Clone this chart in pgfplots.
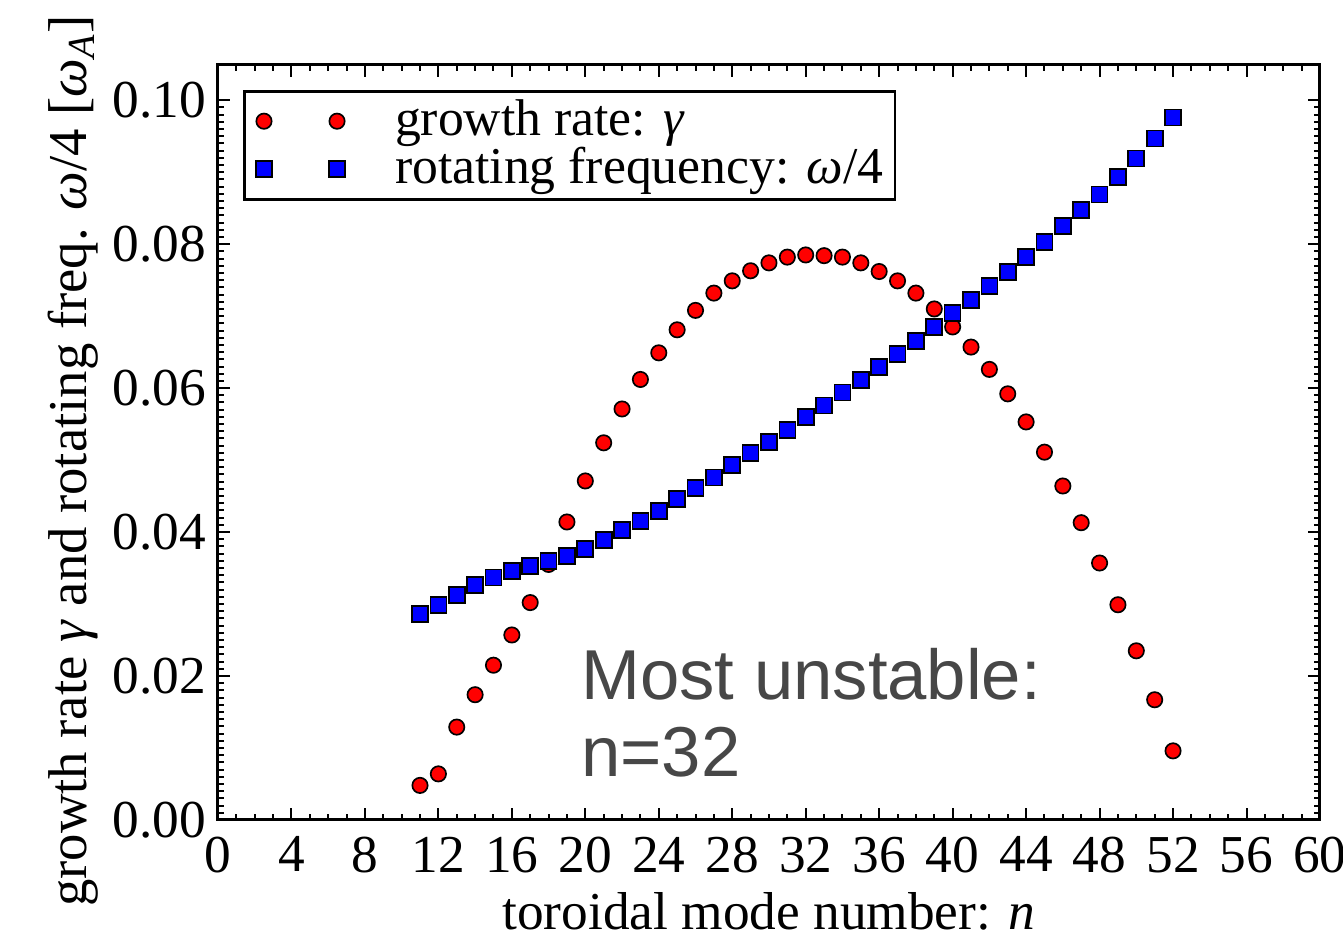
\documentclass[border=0pt]{standalone}
\usepackage{fontspec}
\setmainfont{Liberation Serif}
\newfontfamily\annfont{Liberation Sans}
\usepackage{pgfplots}
\pgfplotsset{compat=1.18}
\definecolor{anngray}{HTML}{474747}
\pgfplotsset{twomarks/.style={legend image code/.code={\draw[##1, only marks] plot coordinates {(0cm,0cm) (0.77cm,0cm)};}}}

\pgfplotstableread{
n gamma
11 0.0048
12 0.0064
13 0.0129
14 0.0174
15 0.0215
16 0.0257
17 0.0302
18 0.0355
19 0.0414
20 0.0471
21 0.0524
22 0.0571
23 0.0612
24 0.0649
25 0.0681
26 0.0708
27 0.0732
28 0.0749
29 0.0763
30 0.0774
31 0.0782
32 0.0785
33 0.0784
34 0.0782
35 0.0774
36 0.0762
37 0.0749
38 0.0732
39 0.0710
40 0.0685
41 0.0657
42 0.0626
43 0.0592
44 0.0553
45 0.0511
46 0.0464
47 0.0413
48 0.0357
49 0.0299
50 0.0235
51 0.0167
52 0.0096
}\gammatable

\pgfplotstableread{
n omega
11 0.0286
12 0.0299
13 0.0313
14 0.0326
15 0.0337
16 0.0346
17 0.0353
18 0.0360
19 0.0367
20 0.0376
21 0.0389
22 0.0403
23 0.0415
24 0.0429
25 0.0446
26 0.0461
27 0.0476
28 0.0493
29 0.0510
30 0.0525
31 0.0542
32 0.0560
33 0.0576
34 0.0594
35 0.0611
36 0.0629
37 0.0647
38 0.0665
39 0.0685
40 0.0704
41 0.0722
42 0.0742
43 0.0761
44 0.0782
45 0.0803
46 0.0825
47 0.0847
48 0.0869
49 0.0893
50 0.0919
51 0.0947
52 0.0976
}\omegatable

\begin{document}
\begin{tikzpicture}
\begin{axis}[
  scale only axis,
  width=330.6pt, height=226.5pt,
  xmin=0, xmax=60, ymin=0, ymax=0.1049,
  xtick={0,4,8,12,16,20,24,28,32,36,40,44,48,52,56,60},
  minor x tick num=3,
  ytick={0,0.02,0.04,0.06,0.08,0.10},
  minor y tick num=19,
  tick align=inside,
  major tick length=3.6pt, minor tick length=1.8pt,
  every tick/.style={black, line width=0.6pt},
  axis line style={line width=0.9pt},
  tick label style={font=\fontsize{16}{18}\selectfont},
  xticklabel style={yshift=-1.5pt, inner xsep=0pt},
  /pgf/number format/assume math mode=true,
  scaled y ticks=false,
  yticklabel style={/pgf/number format/fixed, /pgf/number format/fixed zerofill, /pgf/number format/precision=2},
  xlabel={toroidal mode number: \textit{n}},
  ylabel={growth rate \textit{γ} and rotating freq. \textit{ω}/4 [\textit{ω}\textsubscript{\textit{A}}]},
  xlabel style={font=\fontsize{16}{18}\selectfont, at={(axis description cs:0.5,-0.1457)}, anchor=base},
  ylabel style={font=\fontsize{16.4}{19}\selectfont, at={(axis description cs:-0.1316,0.4755)}, anchor=center},
  clip=false,
  legend cell align=left,
  legend style={at={(axis description cs:0.0227,0.967)}, anchor=north west,
    draw=black, line width=0.8pt, font=\fontsize{15.5}{18}\selectfont,
    inner xsep=3.5pt, inner ysep=1.4pt,
    nodes={inner xsep=0pt, inner ysep=0pt, text height=12pt, text depth=3.2pt},
    column sep=15pt, row sep=-0.8pt},
]
\coordinate (bbsw) at (rel axis cs:-0.1978,-0.1616);
\coordinate (bbne) at (rel axis cs:1.0209,1.086);
\addplot[only marks, mark=*, mark size=2.3pt,
  mark options={fill=red, draw=black, line width=0.5pt}, twomarks]
  table[x=n, y=gamma] {\gammatable};
\addlegendentry{growth rate: \textit{γ}}
\addplot[only marks, mark=square*, mark size=2.4pt,
  mark options={fill=blue, draw=black, line width=0.5pt}, twomarks]
  table[x=n, y=omega] {\omegatable};
\addlegendentry{rotating frequency: \textit{ω}/4}
\node[anchor=base west, inner sep=0pt, font=\annfont\fontsize{21.2}{24}\selectfont, text=anngray] at (axis cs:19.75,0.0168) {Most unstable:};
\node[anchor=base west, inner sep=0pt, font=\annfont\fontsize{21.2}{24}\selectfont, text=anngray] at (axis cs:19.75,0.0060) {n=32};
\end{axis}
\pgfresetboundingbox
\useasboundingbox (bbsw) rectangle (bbne);
\end{tikzpicture}
\end{document}
